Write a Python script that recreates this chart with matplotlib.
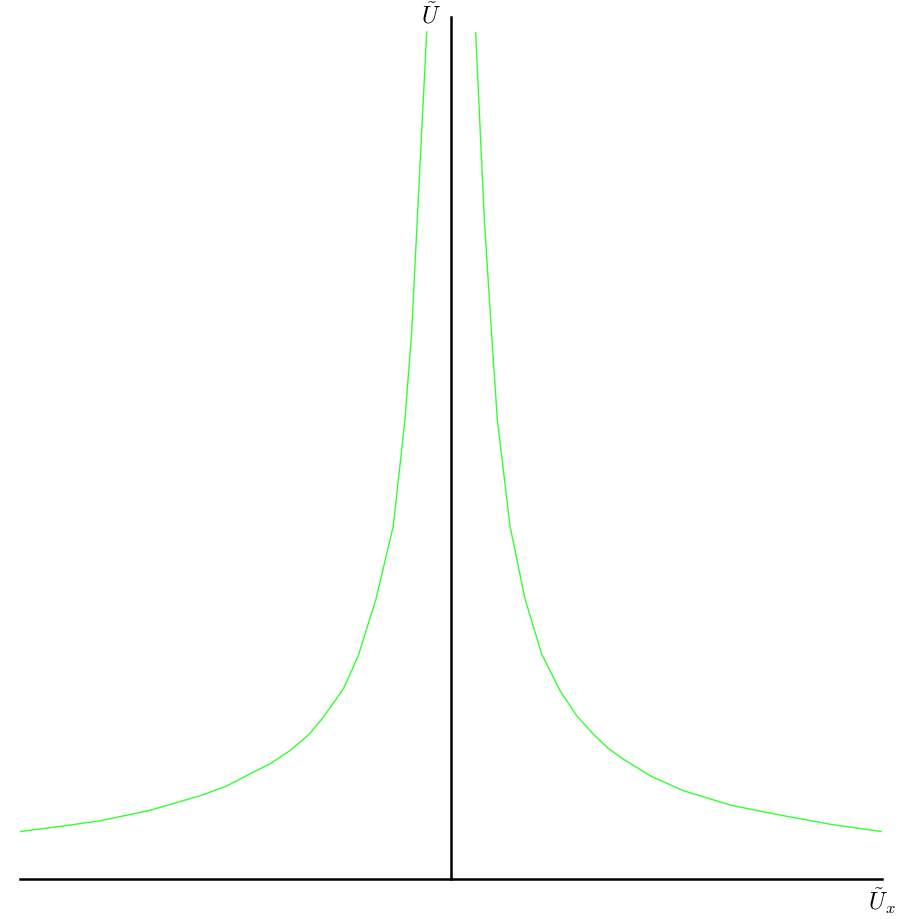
import matplotlib
matplotlib.use("Agg")
import matplotlib.pyplot as plt

plt.rcParams['mathtext.fontset'] = 'cm'

# points (left branch and right branch)
left_x = [-0.564, -0.782, -0.912, -1.067, -1.339, -1.740, -2.151, -2.499,
          -2.963, -3.30, -3.735, -4.20, -4.664, -5.20, -5.824, -7.0,
          -8.144, -9.0, -10.0]
left_y = [19.65, 15.31, 12.69, 10.67, 8.19, 6.50, 5.18, 4.41,
          3.75, 3.35, 2.98, 2.67, 2.44, 2.16, 1.93, 1.59,
          1.35, 1.23, 1.10]
right_x = [0.573, 0.773, 0.940, 1.074, 1.369, 1.717, 2.104, 2.529,
           2.916, 3.302, 3.65, 3.998, 4.65, 5.390, 6.50, 7.710, 8.80, 10.0]
right_y = [19.63, 15.31, 12.69, 10.67, 8.19, 6.50, 5.22, 4.37,
           3.79, 3.36, 3.03, 2.78, 2.38, 2.05, 1.71, 1.47, 1.27, 1.10]

x_label = r'$\tilde{U}_x$'
y_label = r'$\tilde{U}$'

fig = plt.figure(figsize=(9.15, 9.2), dpi=100)
ax = fig.add_axes([20 / 915, 40 / 920, 862 / 915, 862 / 920])
ax.set_xlim(-10, 10)
ax.set_ylim(0, 20)

ax.plot(left_x, left_y, color='#33ff33', lw=1.0)
ax.plot(right_x, right_y, color='#33ff33', lw=1.0)

# axes drawn through the origin
ax.spines['left'].set_position(('data', 0))
ax.spines['bottom'].set_position(('data', 0))
ax.spines['top'].set_visible(False)
ax.spines['right'].set_visible(False)
for s in ('left', 'bottom'):
    ax.spines[s].set_linewidth(1.8)
    ax.spines[s].set_color('black')
ax.set_xticks([])
ax.set_yticks([])

ax.text(-0.46, 20.05, y_label, ha='center', va='center', fontsize=17,
        clip_on=False)
ax.text(10.0, -0.5, x_label, ha='center', va='center', fontsize=17,
        clip_on=False)

fig.savefig('out.png', dpi=100)
